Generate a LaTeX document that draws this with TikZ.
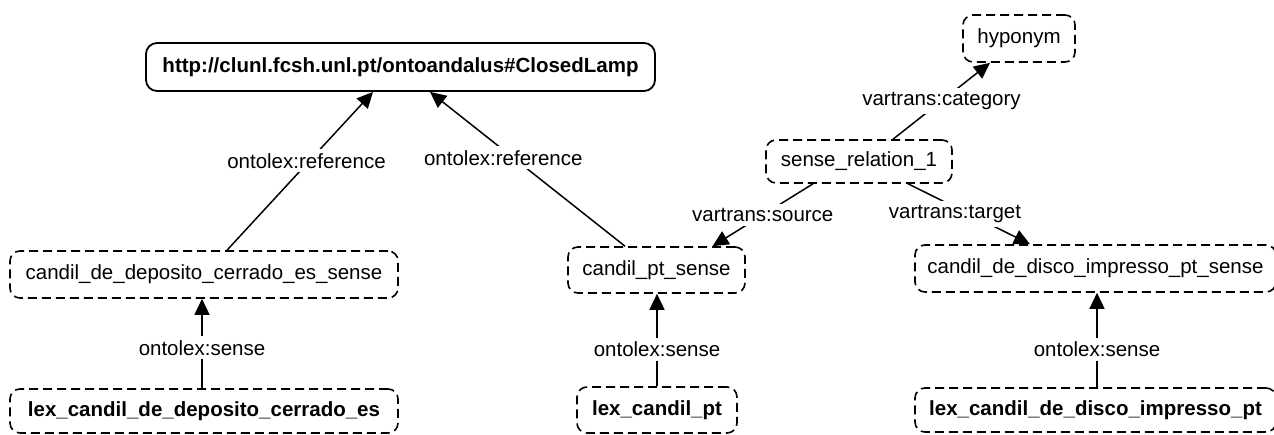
\documentclass[tikz,border=0pt]{standalone}
\usepackage{fontspec}
\setmainfont{Liberation Sans}
\usetikzlibrary{arrows.meta}
\newcommand{\lblfont}{\fontsize{20.5}{24}\selectfont}
\tikzset{
  box/.style={draw, line width=1.6pt, dash pattern=on 9pt off 5pt, rounded corners=10pt,
    font=\lblfont, inner sep=0pt, align=center},
  solidbox/.style={draw, line width=1.8pt, rounded corners=11pt, font=\lblfont\bfseries, inner sep=0pt},
  conn/.style={line width=1.5pt, -{Triangle[length=16pt,width=15pt]}},
  lab/.style={fill=white, inner sep=4pt, font=\lblfont}
}
\begin{document}
\begin{tikzpicture}[x=1pt,y=-1pt]
\useasboundingbox (0,0) rectangle (1274,435);
% nodes
\node[solidbox, minimum width=509pt, minimum height=48pt] (lamp) at (400.5,67) {http://clunl.fcsh.unl.pt/ontoandalus\#ClosedLamp};
\node[box, minimum width=112pt, minimum height=47pt] (hyp) at (1019,38.5) {hyponym};
\node[box, minimum width=186pt, minimum height=43pt] (rel) at (859,161.5) {sense\_relation\_1};
\node[box, minimum width=388pt, minimum height=47pt] (s1) at (204,274.5) {candil\_de\_deposito\_cerrado\_es\_sense};
\node[box, minimum width=177pt, minimum height=46pt] (s2) at (656.5,270) {candil\_pt\_sense};
\node[box, minimum width=361pt, minimum height=47pt] (s3) at (1095.5,268.5) {candil\_de\_disco\_impresso\_pt\_sense};
\node[box, font=\lblfont\bfseries, minimum width=388pt, minimum height=44pt] (l1) at (204,411) {lex\_candil\_de\_deposito\_cerrado\_es};
\node[box, font=\lblfont\bfseries, minimum width=160pt, minimum height=46pt] (l2) at (657,410) {lex\_candil\_pt};
\node[box, font=\lblfont\bfseries, minimum width=361pt, minimum height=44pt] (l3) at (1095.5,410) {lex\_candil\_de\_disco\_impresso\_pt};
% connectors
\draw[conn] ([xshift=23pt]s1.north) -- node[lab, pos=0.565, xshift=-3pt] {ontolex:reference} ([xshift=-27.5pt]lamp.south);
\draw[conn] ([xshift=-31.5pt]s2.north) -- node[lab, pos=0.573, xshift=-10pt] {ontolex:reference} ([xshift=29.5pt]lamp.south);
\draw[conn] ([xshift=34pt]rel.north) -- node[lab, pos=0.5] {vartrans:category} ([xshift=-29pt]hyp.south);
\draw[conn] ([xshift=-46pt]rel.south) -- node[lab, pos=0.5] {vartrans:source} ([xshift=56pt]s2.north);
\draw[conn] ([xshift=49pt]rel.south) -- node[lab, pos=0.5, xshift=-14pt] {vartrans:target} ([xshift=-65.5pt]s3.north);
\draw[conn] ([xshift=-2pt]l1.north) -- node[lab, pos=0.45] {ontolex:sense} ([xshift=-2pt]s1.south);
\draw[conn] (l2.north) -- node[lab, pos=0.4] {ontolex:sense} ([xshift=0.5pt]s2.south);
\draw[conn] ([xshift=1.5pt]l3.north) -- node[lab, pos=0.4] {ontolex:sense} ([xshift=1.5pt]s3.south);
\end{tikzpicture}
\end{document}
